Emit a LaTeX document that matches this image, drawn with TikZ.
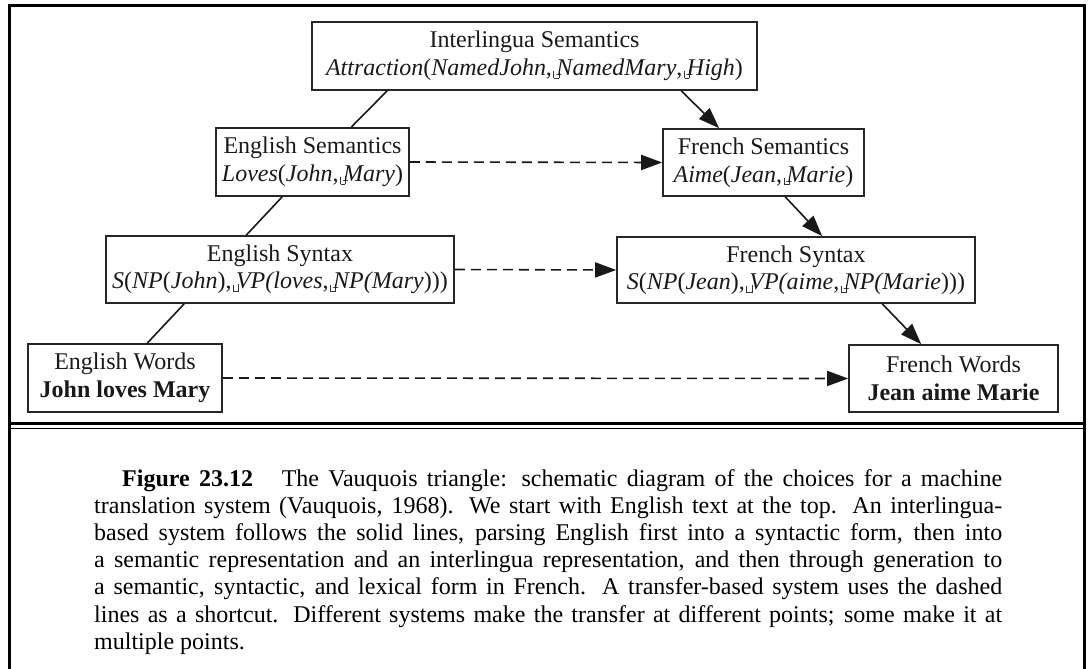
\documentclass[tikz,border=0pt]{standalone}
\usepackage{fontspec}
\setmainfont{Liberation Serif}
\usetikzlibrary{arrows.meta}
\newcommand{\vsp}{\kern1.5pt\makebox[0pt][l]{\raisebox{-3pt}{\color{black!80}\rule{0.8pt}{7pt}\rule{4.5pt}{0.8pt}\rule{0.8pt}{8pt}}}\kern3pt}
\begin{document}
\begin{tikzpicture}[x=1pt,y=-1pt,
  box/.style={draw=black!85, line width=1.6pt, inner sep=0pt, align=center,
    font=\fontsize{24}{27.5}\selectfont, text=black!90},
  link/.style={line width=1.6pt, draw=black!90},
  arr/.style={line width=1.6pt, draw=black!90, -{Triangle[length=21pt,width=15pt]}},
  darr/.style={arr, dash pattern=on 10pt off 6pt},
  frame/.style={line width=3pt, draw=black}]
\useasboundingbox (0,0) rectangle (1090,669);
% frame
\draw[frame] (9,669) -- (9,6) -- (1084.5,6) -- (1084.5,669);
\draw[line width=3pt] (9,423.5) -- (1084.5,423.5);
\draw[line width=1.5pt] (9,428.5) -- (1084.5,428.5);
% nodes
\node[box, minimum width=445pt, minimum height=68pt] (il) at (534.5,56)
  {Interlingua Semantics\\ \textit{Attraction}(\textit{NamedJohn},\vsp\textit{NamedMary},\vsp\textit{High})};
\node[box, minimum width=193pt, minimum height=68pt] (es) at (312.5,162)
  {English Semantics\\ \textit{Loves}(\textit{John},\vsp\textit{Mary})};
\node[box, minimum width=201pt, minimum height=67pt] (fs) at (763.5,162.5)
  {French Semantics\\ \textit{Aime}(\textit{Jean},\vsp\textit{Marie})};
\node[box, minimum width=348pt, minimum height=67pt] (esyn) at (280,269.5)
  {English Syntax\\ \textit{S}(\textit{NP}(\textit{John}),\vsp\textit{VP(loves},\vsp\textit{NP(Mary})))};
\node[box, minimum width=358pt, minimum height=66pt] (fsyn) at (796,270)
  {French Syntax\\ \textit{S}(\textit{NP}(\textit{Jean}),\vsp\textit{VP(aime},\vsp\textit{NP(Marie})))};
\node[box, minimum width=194pt, minimum height=68pt] (ew) at (125,378)
  {English Words\\ \textbf{John loves Mary}};
\node[box, minimum width=209pt, minimum height=67pt] (fw) at (953.5,378.5)
  {French Words\\ \textbf{Jean aime Marie}};
% solid links (analysis)
\draw[link] ([xshift=76pt]il.south west) -- ([xshift=136pt]es.north west);
\draw[link] ([xshift=67pt]es.south west) -- ([xshift=141pt]esyn.north west);
\draw[link] ([xshift=79pt]esyn.south west) -- ([xshift=120pt]ew.north west);
% generation arrows
\draw[arr] ([xshift=370pt]il.south west) -- ([xshift=57pt]fs.north west);
\draw[arr] ([xshift=123pt]fs.south west) -- ([xshift=206pt]fsyn.north west);
\draw[arr] ([xshift=266pt]fsyn.south west) -- ([xshift=73pt]fw.north west);
% transfer
\draw[darr] (es.east) -- (fs.west);
\draw[darr] (esyn.east) -- (fsyn.west);
\draw[darr] (ew.east) -- (fw.west);
% caption
\node[anchor=base west, text width=908pt, align=justify, inner sep=0pt,
  font=\fontsize{24}{27.2}\selectfont] (cap) at (94,486)
{\hspace*{28pt}\textbf{Figure 23.12}\hspace{1.2em}The Vauquois triangle: schematic diagram of the choices for a machine\linebreak
translation system (Vauquois, 1968). We start with English text at the top. An interlingua-\linebreak
based system follows the solid lines, parsing English first into a syntactic form, then into\linebreak
a semantic representation and an interlingua representation, and then through generation to\linebreak
a semantic, syntactic, and lexical form in French. A transfer-based system uses the dashed\linebreak
lines as a shortcut. Different systems make the transfer at different points; some make it at\linebreak
multiple points.};
\end{tikzpicture}
\end{document}
